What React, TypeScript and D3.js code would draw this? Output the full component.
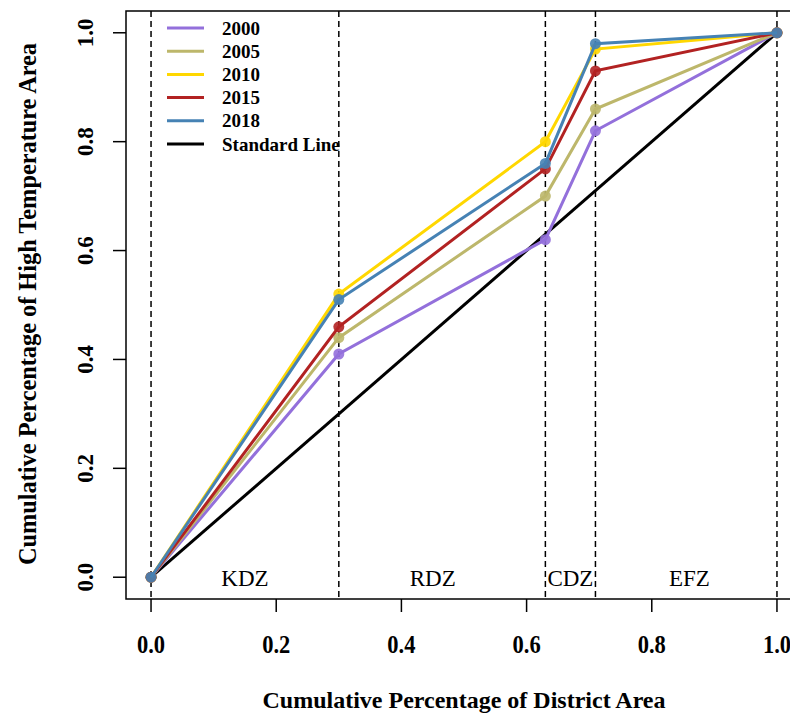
import React from 'react';
import * as d3 from 'd3';

const xPoints = [0, 0.3, 0.63, 0.71, 1.0];
const years = ['2000', '2005', '2010', '2015', '2018'];
const values2000 = [0, 0.41, 0.62, 0.82, 1.0];
const values2005 = [0, 0.44, 0.70, 0.86, 1.0];
const values2010 = [0, 0.52, 0.80, 0.97, 1.0];
const values2015 = [0, 0.46, 0.75, 0.93, 1.0];
const values2018 = [0, 0.51, 0.76, 0.98, 1.0];
const seriesColors = ['#9370DB', '#BDB76B', '#FFD700', '#B22222', '#4682B4'];
const standardX = [0, 1];
const standardY = [0, 1];
const zoneNames = ['KDZ', 'RDZ', 'CDZ', 'EFZ'];
const zoneLabelX = [0.15, 0.45, 0.67, 0.86];
const zoneBounds = [0, 0.3, 0.63, 0.71, 1.0];
const xTicks = [0, 0.2, 0.4, 0.6, 0.8, 1.0];
const yTicks = [0, 0.2, 0.4, 0.6, 0.8, 1.0];

const allSeries = [values2000, values2005, values2010, values2015, values2018];

const W = 790;
const H = 713;
const left = 126, right = 802, top = 11, bottom = 599;
const FONT = '"Liberation Serif", "Times New Roman", serif';

export default function App() {
  const x = d3.scaleLinear().domain([-0.04, 1.04]).range([left, right]);
  const y = d3.scaleLinear().domain([-0.04, 1.04]).range([bottom, top]);
  const line = d3.line<[number, number]>().x(d => x(d[0])).y(d => y(d[1]));

  return (
    <svg width={W} height={H} style={{ position: 'absolute', left: 0, top: 0, background: '#fff' }}
      fontFamily={FONT}>
      <rect x={0} y={0} width={W} height={H} fill="#fff" />
      {zoneBounds.map((b, i) => (
        <line key={'z' + i} x1={x(b)} x2={x(b)} y1={top} y2={bottom}
          stroke="#000" strokeWidth={1.5} strokeDasharray="6,4" />
      ))}
      <path d={line(standardX.map((v, i) => [v, standardY[i]]) as any) || ''}
        fill="none" stroke="#000" strokeWidth={3} />
      {allSeries.map((vals, si) => {
        const pts = xPoints.map((xv, i) => [xv, vals[i]] as [number, number]);
        return (
          <g key={'s' + si}>
            <path d={line(pts) || ''} fill="none" stroke={seriesColors[si]} strokeWidth={3} />
            {pts.map((p, i) => (
              <circle key={i} cx={x(p[0])} cy={y(p[1])} r={5.5} fill={seriesColors[si]} fillOpacity={0.9} />
            ))}
          </g>
        );
      })}
      {zoneNames.map((n, i) => (
        <text key={'zl' + i} x={x(zoneLabelX[i])} y={586} textAnchor="middle" fontSize={23}>{n}</text>
      ))}
      <rect x={left} y={top} width={right - left} height={bottom - top} fill="none" stroke="#000" strokeWidth={1.5} />
      {xTicks.map((t, i) => (
        <g key={'xt' + i}>
          <line x1={x(t)} x2={x(t)} y1={bottom} y2={bottom + 13} stroke="#000" strokeWidth={1.5} />
          <text transform={`translate(${x(t)},653) scale(0.9,1)`} textAnchor="middle" fontSize={25} fontWeight="bold">{t.toFixed(1)}</text>
        </g>
      ))}
      {yTicks.map((t, i) => (
        <g key={'yt' + i}>
          <line x1={left - 13} x2={left} y1={y(t)} y2={y(t)} stroke="#000" strokeWidth={1.5} />
          <text transform={`translate(93,${y(t)}) rotate(-90)`} textAnchor="middle" fontSize={23} fontWeight="bold">{t.toFixed(1)}</text>
        </g>
      ))}
      <text x={(left + right) / 2} y={708} textAnchor="middle" fontSize={24} fontWeight="bold">Cumulative Percentage of District Area</text>
      <text transform={`translate(36,304) rotate(-90)`} textAnchor="middle" fontSize={24.5} fontWeight="bold"
        textLength={522} lengthAdjust="spacingAndGlyphs">Cumulative Percentage of High Temperature Area</text>
      {years.concat(['Standard Line']).map((name, i) => {
        const cy = 28 + i * 23.2;
        const c = i < years.length ? seriesColors[i] : '#000';
        return (
          <g key={'lg' + i}>
            <line x1={167} x2={204} y1={cy} y2={cy} stroke={c} strokeWidth={3} />
            <text x={222} y={cy} dominantBaseline="central" fontSize={19} fontWeight="bold">{name}</text>
          </g>
        );
      })}
    </svg>
  );
}
